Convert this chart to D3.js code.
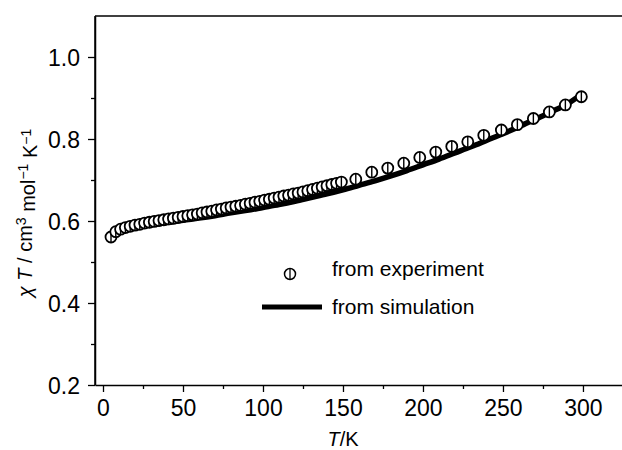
<!DOCTYPE html>
<html>
<head>
<meta charset="utf-8">
<script src="https://cdn.jsdelivr.net/npm/d3@7"></script>
<style>
  body { margin: 0; background: #fff; }
  text { font-family: "Liberation Sans", Arial, sans-serif; fill: #000; }
</style>
</head>
<body>
<div id="chart"></div>
<script>
// experiment points (T in K, chiT in cm3 mol-1 K)
var expT = [5, 8, 11, 14, 17, 20, 23, 26, 29, 32, 35, 38, 41, 44, 47, 50, 53, 56, 59, 62,
            65, 68, 71, 74, 77, 80, 83, 86, 89, 92, 95, 98, 101, 104, 107, 110, 113, 116, 119, 122,
            125, 128, 131, 134, 137, 140, 143, 146, 149,
            158, 168, 178, 188, 198, 208, 218, 228, 238, 249, 259, 269, 279, 289, 299];
var expChiT = [0.561, 0.574, 0.580, 0.584, 0.587, 0.590, 0.592, 0.595, 0.597, 0.599, 0.601, 0.603, 0.605, 0.607, 0.609, 0.611, 0.613, 0.615, 0.617, 0.620,
               0.622, 0.624, 0.627, 0.629, 0.632, 0.634, 0.636, 0.638, 0.641, 0.643, 0.646, 0.648, 0.651, 0.653, 0.656, 0.658, 0.661, 0.663, 0.666, 0.668,
               0.671, 0.674, 0.677, 0.680, 0.683, 0.686, 0.689, 0.692, 0.695,
               0.702, 0.719, 0.729, 0.741, 0.755, 0.768, 0.782, 0.793, 0.809, 0.822, 0.835, 0.850, 0.866, 0.883, 0.903];

// simulation curve
var simT = [6, 10, 15, 20, 30, 40, 50, 60, 70, 80, 90, 100, 110, 120, 130, 140, 150,
            160, 170, 180, 190, 200, 210, 220, 230, 240, 250, 260, 270, 280, 290, 300];
var simChiT = [0.572, 0.582, 0.586, 0.588, 0.591, 0.596, 0.602, 0.607, 0.613, 0.620, 0.626, 0.633, 0.640, 0.648, 0.657, 0.666, 0.676,
               0.687, 0.698, 0.710, 0.723, 0.737, 0.751, 0.766, 0.781, 0.797, 0.813, 0.830, 0.848, 0.866, 0.885, 0.912];

var xTicks = [0, 50, 100, 150, 200, 250, 300];
var yTicks = [0.2, 0.4, 0.6, 0.8, 1.0];

var W = 622, H = 450;
var margin = {top: 16, right: 0, bottom: 65, left: 95};

var svg = d3.select("#chart")
    .append("svg")
        .attr("width", W)
        .attr("height", H);

var x = d3.scaleLinear()
    .domain([-5, 324.4])
    .range([margin.left, W - margin.right]);

var y = d3.scaleLinear()
    .domain([0.2, 1.1])
    .range([H - margin.bottom, margin.top]);

// minor ticks first, no labels
svg.append("g")
    .attr("transform", "translate(0," + y(0.2) + ")")
    .call(d3.axisBottom(x).tickValues([25, 75, 125, 175, 225, 275]).tickSize(4).tickFormat(""))
    .call(g => g.select(".domain").remove());

svg.append("g")
    .attr("transform", "translate(" + margin.left + ",0)")
    .call(d3.axisLeft(y).tickValues([0.3, 0.5, 0.7, 0.9]).tickSize(4).tickFormat(""))
    .call(g => g.select(".domain").remove());

// X axis
var xAxis = svg.append("g")
    .attr("transform", "translate(0," + y(0.2) + ")")
    .call(d3.axisBottom(x)
        .tickValues(xTicks)
        .tickSize(7)
        .tickSizeOuter(0)
        .tickPadding(8));
xAxis.selectAll("text").style("font-size", "23px");

// Y axis
var yAxis = svg.append("g")
    .attr("transform", "translate(" + margin.left + ",0)")
    .call(d3.axisLeft(y)
        .tickValues(yTicks)
        .tickSize(7)
        .tickSizeOuter(0)
        .tickPadding(8)
        .tickFormat(d3.format(".1f")));
yAxis.selectAll("text").style("font-size", "23px").attr("dy", "0.36em");

svg.selectAll(".domain").attr("stroke-width", 1.5);
svg.selectAll(".tick line").attr("stroke-width", 1.3);

// frame top + left
svg.append("line")
    .attr("x1", margin.left).attr("x2", W)
    .attr("y1", y(1.1)).attr("y2", y(1.1))
    .attr("stroke", "black")
    .attr("stroke-width", 1.5);
svg.append("line")
    .attr("x1", margin.left).attr("x2", margin.left)
    .attr("y1", y(1.1)).attr("y2", y(0.2))
    .attr("stroke", "black")
    .attr("stroke-width", 1.5);

// simulation line
var simData = simT.map((t, i) => ({t: t, v: simChiT[i]}));
var line = d3.line()
    .x(d => x(d.t))
    .y(d => y(d.v))
    .curve(d3.curveMonotoneX);

svg.append("path")
    .datum(simData)
    .attr("fill", "none")
    .attr("stroke", "black")
    .attr("stroke-width", 5.5)
    .attr("d", line);

// experiment markers: open circle with vertical bar
var expData = expT.map((t, i) => ({t: t, v: expChiT[i]}));
var r = 5.5;
var marks = svg.append("g")
    .selectAll("g")
    .data(expData)
    .enter().append("g")
        .attr("transform", d => "translate(" + x(d.t) + "," + y(d.v) + ")");
marks.append("circle")
    .attr("r", r)
    .attr("fill", "white")
    .attr("stroke", "black")
    .attr("stroke-width", 1.8);
marks.append("line")
    .attr("y1", -r).attr("y2", r)
    .attr("stroke", "black")
    .attr("stroke-width", 1.4);

// legend
var lg = svg.append("g").attr("transform", "translate(290,274)");
lg.append("circle").attr("r", r).attr("fill", "white").attr("stroke", "black").attr("stroke-width", 1.5);
lg.append("line").attr("y1", -r).attr("y2", r).attr("stroke", "black").attr("stroke-width", 1.3);

svg.append("line")
    .attr("x1", 262).attr("x2", 322)
    .attr("y1", 307).attr("y2", 307)
    .attr("stroke", "black")
    .attr("stroke-width", 5);

svg.append("text")
    .attr("x", 332).attr("y", 276)
    .style("font-size", "21px")
    .text("from experiment");
svg.append("text")
    .attr("x", 332).attr("y", 314)
    .style("font-size", "21px")
    .text("from simulation");

// axis titles
var xt = svg.append("text")
    .attr("x", 343).attr("y", 446)
    .attr("text-anchor", "middle")
    .style("font-size", "20px");
xt.append("tspan").style("font-style", "italic").text("T");
xt.append("tspan").text("/K");

var yt = svg.append("text")
    .attr("transform", "translate(32,213) rotate(-90)")
    .attr("text-anchor", "middle")
    .style("font-size", "20px");
yt.append("tspan").style("font-style", "italic").text("χ T");
yt.append("tspan").text(" / cm");
yt.append("tspan").attr("dy", "-0.45em").style("font-size", "14px").text("3");
yt.append("tspan").attr("dy", "0.45em").text(" mol");
yt.append("tspan").attr("dy", "-0.45em").style("font-size", "14px").text("−1");
yt.append("tspan").attr("dy", "0.45em").text(" K");
yt.append("tspan").attr("dy", "-0.45em").style("font-size", "14px").text("−1");
</script>
</body>
</html>
